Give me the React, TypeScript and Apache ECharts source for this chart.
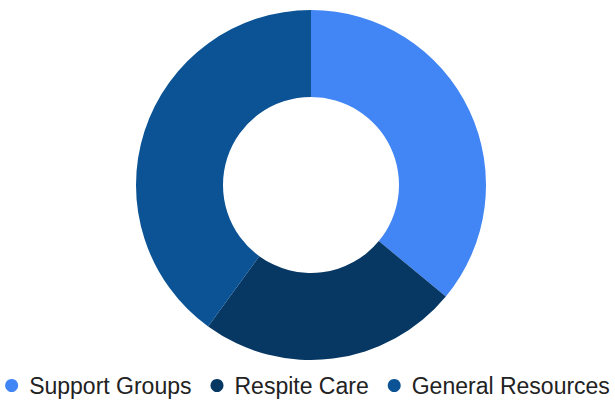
import React, { useEffect, useRef } from "react";
import * as echarts from "echarts";

const categories = ["Support Groups", "Respite Care", "General Resources"];
const values = [36, 24, 40];
const colors = ["#4285F4", "#073763", "#0B5394"];

export default function App() {
  const ref = useRef<HTMLDivElement>(null);
  useEffect(() => {
    if (!ref.current) return;
    const chart = echarts.init(ref.current, undefined, { renderer: "svg" });
    chart.setOption({
      animation: false,
      color: colors,
      legend: {
        data: categories,
        top: 369,
        left: "center",
        icon: "circle",
        itemWidth: 13,
        itemHeight: 13,
        itemGap: 19,
        textStyle: {
          fontFamily: "Liberation Sans, Arial, sans-serif",
          fontSize: 23,
          color: "#222222",
          padding: [0, 0, 0, 6],
        },
      },
      series: [
        {
          type: "pie",
          center: [311, 185],
          radius: [88, 175],
          startAngle: 90,
          clockwise: true,
          label: { show: false },
          labelLine: { show: false },
          emphasis: { disabled: true },
          data: categories.map((name, i) => ({ name, value: values[i] })),
        },
      ],
    });
    return () => chart.dispose();
  }, []);
  return (
    <div
      ref={ref}
      style={{ position: "absolute", left: 0, top: 0, width: 615, height: 400, background: "#fff" }}
    />
  );
}
